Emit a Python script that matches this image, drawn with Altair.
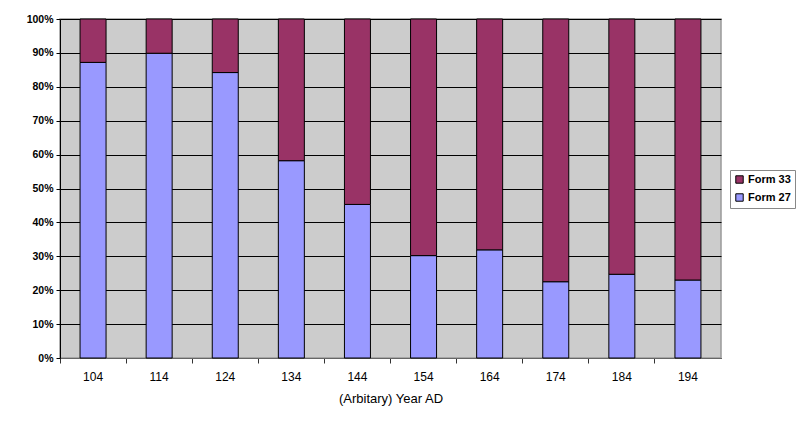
import altair as alt
import pandas as pd

years = ["104", "114", "124", "134", "144", "154", "164", "174", "184", "194"]
form27 = [87.2, 89.9, 84.2, 58.2, 45.3, 30.2, 31.9, 22.5, 24.7, 23.0]
form33 = [12.8, 10.1, 15.8, 41.8, 54.7, 69.8, 68.1, 77.5, 75.3, 77.0]
series = ["Form 33", "Form 27"]
colors = ["#993366", "#9999FF"]

rows = []
for y, a, b in zip(years, form27, form33):
    rows.append({"year": y, "series": "Form 27", "value": a, "order": 0})
    rows.append({"year": y, "series": "Form 33", "value": b, "order": 1})
df = pd.DataFrame(rows)

font = "Liberation Sans"

chart = alt.Chart(df).mark_bar(stroke="black", strokeWidth=1, size=26).encode(
    x=alt.X("year:N", sort=years, title="(Arbitary) Year AD",
            scale=alt.Scale(paddingInner=0, paddingOuter=0),
            axis=alt.Axis(labelAngle=0, bandPosition=0, ticks=True, tickSize=5,
                          tickColor="#333333", domainColor="#666666",
                          labelFont=font, labelFontSize=12, labelColor="black",
                          labelPadding=8, titleFont=font, titleFontSize=13,
                          titleFontWeight="normal", titlePadding=10, grid=False)),
    y=alt.Y("value:Q", stack="normalize", title=None,
            scale=alt.Scale(domain=[0, 1]),
            axis=alt.Axis(format=".0%", values=[i / 10 for i in range(11)],
                          grid=True, gridColor="black", gridWidth=1,
                          tickSize=4, tickColor="black", domainColor="black",
                          labelFont=font, labelFontSize=10.5, labelFontWeight="bold",
                          labelColor="black", labelPadding=3)),
    color=alt.Color("series:N", scale=alt.Scale(domain=series, range=colors),
                    legend=alt.Legend(title=None, orient="none", legendX=670, legendY=151,
                                      symbolType="square", symbolSize=55,
                                      symbolStrokeColor="black", symbolStrokeWidth=1,
                                      labelFont=font, labelFontSize=11,
                                      labelFontWeight="bold", labelColor="black",
                                      labelOffset=3,
                                      strokeColor="#888888", padding=4,
                                      rowPadding=5, symbolOffset=0)),
    order=alt.Order("order:Q"),
).properties(
    width=661, height=339,
    padding={"left": 60, "top": 19, "right": 78, "bottom": 65},
    autosize=alt.AutoSizeParams(type="none"),
    background="white",
).configure_view(
    fill="#CCCCCC", stroke="#999999", strokeWidth=1.5
)

chart.save("out.html", embed_options={"renderer": "svg", "actions": False})
